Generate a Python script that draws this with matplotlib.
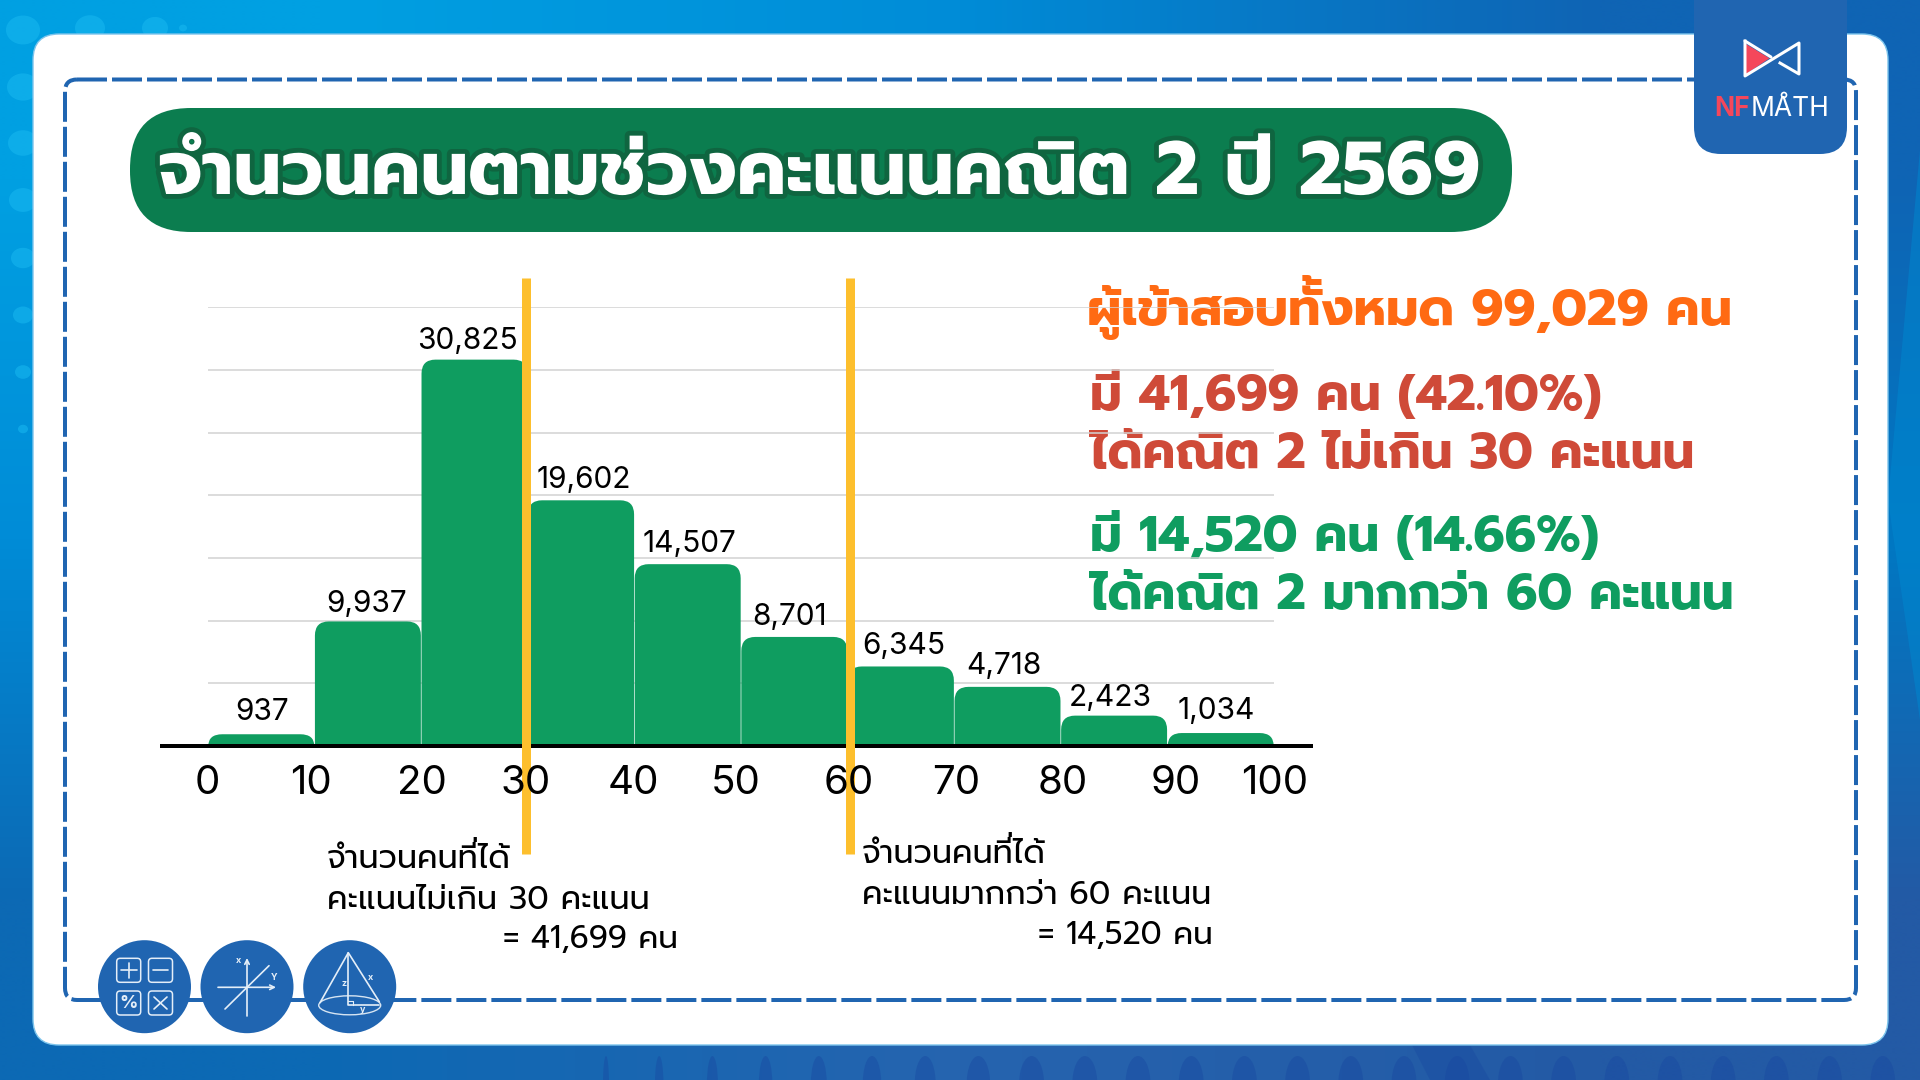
import re
import numpy as np
import matplotlib
matplotlib.use("Agg")
import matplotlib.pyplot as plt
import matplotlib.patheffects as pe
from matplotlib.patches import FancyBboxPatch, PathPatch, Ellipse, Circle, Polygon
from matplotlib.path import Path
from matplotlib.transforms import ScaledTranslation

# chart data
bin_left = [0, 10, 20, 30, 40, 50, 60, 70, 80, 90]
counts = [937, 9937, 30825, 19602, 14507, 8701, 6345, 4718, 2423, 1034]
tick_values = [0, 10, 20, 30, 40, 50, 60, 70, 80, 90, 100]
grid_values = [5000, 10000, 15000, 20000, 25000, 30000, 35000]
cut_scores = [29.83, 60.18]

title = "จำนวนคนตามช่วงคะแนนคณิต 2 ปี 2569"
total_line = "ผู้เข้าสอบทั้งหมด 99,029 คน"
low_lines = ["มี 41,699 คน (42.10%)", "ได้คณิต 2 ไม่เกิน 30 คะแนน"]
high_lines = ["มี 14,520 คน (14.66%)", "ได้คณิต 2 มากกว่า 60 คะแนน"]
low_note = ["จำนวนคนที่ได้", "คะแนนไม่เกิน 30 คะแนน", "= 41,699 คน"]
high_note = ["จำนวนคนที่ได้", "คะแนนมากกว่า 60 คะแนน", "= 14,520 คน"]

FONT = ["Prompt"]
NUM_FONT = ["Inter", "Noto Sans Thai"]
GREEN = "#0f9d60"
BLUE = "#2065b1"
PX = 0.72  # one pixel in points at dpi 100

fig = plt.figure(figsize=(19.2, 10.8), dpi=100)
renderer = fig.canvas.get_renderer()

# page in pixel coordinates
bg = fig.add_axes([0, 0, 1, 1], zorder=0)
bg.axis("off")

grad = np.array([[[0, 160, 226], [0, 140, 215], [15, 100, 180]],
                 [[0, 140, 215], [10, 110, 190], [0, 120, 195]],
                 [[12, 105, 180], [38, 100, 175], [35, 90, 165]]]) / 255
bg.imshow(grad, extent=[0, 1920, 1080, 0], aspect="auto", interpolation="bilinear", zorder=0)
bg.set_xlim(0, 1920)
bg.set_ylim(1080, 0)

# background dots
for y, r in zip([30, 87, 143, 200, 258, 315, 372, 429], [17, 16, 15, 14, 12, 10, 8, 5]):
    bg.add_patch(Ellipse((23, y), r * 2, r * 1.7, color="#19b8f0", alpha=0.55, lw=0, zorder=1))
for x, r in zip([90, 155, 183], [15, 13, 4]):
    bg.add_patch(Ellipse((x, 28), r * 2, r * 1.7, color="#19b8f0", alpha=0.55, lw=0, zorder=1))
for i, x in enumerate(np.arange(606, 1900, 53.2)):
    w = min(6 + i * 2.5, 25)
    bg.add_patch(Ellipse((x, 1084), w, 56, color="#1746a0", alpha=0.4, lw=0, zorder=1))
bg.add_patch(Polygon([[1888, 500], [1920, 150], [1920, 720]], color="#0088d0", alpha=0.5, lw=0, zorder=1))
bg.add_patch(Polygon([[1412, 1045], [1470, 1045], [1490, 1080], [1430, 1080]], color="#1746a0", alpha=0.35, lw=0, zorder=1))

# white card and dashed frame
bg.add_patch(FancyBboxPatch((33, 34), 1855, 1011, boxstyle="round,pad=0,rounding_size=26",
                            fc="white", ec="#7cc4ec", lw=1, zorder=2))
bg.add_patch(FancyBboxPatch((65, 79.5), 1791, 920.5, boxstyle="round,pad=0,rounding_size=12",
                            fc="none", ec=BLUE, lw=4 * PX, ls=(0, (7.5, 1.25)), capstyle="butt", zorder=3))

# title pill
bg.add_patch(FancyBboxPatch((130, 108), 1382, 124, boxstyle="round,pad=0,rounding_size=61",
                            fc="#0b7d4f", ec="none", zorder=4))
bg.text(158, 194, title, fontsize=54, family=FONT, weight="bold", color="white", zorder=5,
        path_effects=[pe.withStroke(linewidth=7, foreground="#0f6540")])


def thai_line(x, y, s, size, color, weight="normal", lift=0.2, nudge=0):
    # no text shaping here, so a tone mark on top of an upper vowel is lifted by hand
    m = re.search("[ัิีึื][่้๊๋]", s)
    kw = dict(fontsize=size, family=FONT, weight=weight, color=color, zorder=5)
    if m is None:
        bg.text(x, y, s, **kw)
        return
    tone = s[m.start() + 1]
    bg.text(x, y, s[:m.start() + 1] + s[m.start() + 2:], **kw)
    tmp = bg.text(x, y, s[:m.start()], **kw)
    w = tmp.get_window_extent(renderer).width
    tmp.set_text(" ")
    sp = tmp.get_window_extent(renderer).width
    tmp.remove()
    bg.text(x + w - sp + nudge, y - lift * size / PX, " " + tone, **kw)


# right hand summary
thai_line(1087, 325, total_line, 36.8, "#ff6a13", weight="bold")
thai_line(1090, 410, low_lines[0], 36, "#cf4a38", weight="bold")
thai_line(1090, 468, low_lines[1], 36, "#cf4a38", weight="bold")
thai_line(1090, 551, high_lines[0], 36, GREEN, weight="bold")
thai_line(1090, 609, high_lines[1], 36, GREEN, weight="bold")

# notes under the chart
note_size = 23
thai_line(327, 868, low_note[0], note_size, "black")
thai_line(327, 909, low_note[1], note_size, "black")
thai_line(503, 948, low_note[2], 22.5, "black")
thai_line(862, 863, high_note[0], note_size, "black")
thai_line(862, 904, high_note[1], note_size, "black")
thai_line(1038, 944, high_note[2], 22.5, "black")

# logo
bg.add_patch(FancyBboxPatch((1694, -60), 153, 214, boxstyle="round,pad=0,rounding_size=27",
                            fc=BLUE, ec="none", zorder=6))
bg.add_patch(Polygon([[1746, 44], [1769.5, 58.3], [1746, 74]], color="#f5475b", lw=0, zorder=7))
bg.plot([1745, 1745, 1799, 1799, 1780], [41, 76, 43, 74, 63], color="white", lw=3 * PX, solid_joinstyle="round", zorder=7)
bg.plot([1745, 1771], [41, 57], color="white", lw=3 * PX, solid_capstyle="round", zorder=7)
bg.text(1714, 116, "NF", fontsize=19, family="Inter", weight="bold", color="#f5475b", zorder=7)
bg.text(1751, 116, "MATH", fontsize=19, family="Inter", weight="normal", color="white", zorder=7)
bg.add_patch(Circle((1784, 95), 2.5, fc="none", ec="white", lw=1.2, zorder=7))

# three round icons on the frame
for cx in [144.5, 247, 349.7]:
    bg.add_patch(Circle((cx, 986.7), 46.5, fc=BLUE, ec="none", zorder=6))
for x0, y0 in [(116.7, 958.3), (148.5, 958.3), (116.7, 991), (148.5, 991)]:
    bg.add_patch(FancyBboxPatch((x0, y0), 24, 24, boxstyle="round,pad=0,rounding_size=3.5",
                                fc="none", ec="#e4eef8", lw=1.1, zorder=7))
line = dict(color="#e4eef8", lw=1.2, zorder=7, solid_capstyle="round")
bg.plot([121, 136.5], [970.3, 970.3], **line)
bg.plot([128.7, 128.7], [963, 978], **line)
bg.plot([153, 168], [970.3, 970.3], **line)
bg.plot([154, 167], [997, 1009], **line)
bg.plot([167, 154], [997, 1009], **line)
bg.text(128.7, 1003, "%", fontsize=13, family="Inter", weight="bold", color="#e4eef8",
        ha="center", va="center", zorder=7)
# axes icon
bg.annotate("", xy=(276, 987.3), xytext=(218, 987.3), zorder=7,
            arrowprops=dict(arrowstyle="->", color="#e4eef8", lw=1.2, mutation_scale=8, shrinkA=0, shrinkB=0))
bg.annotate("", xy=(247, 958), xytext=(247, 1016), zorder=7,
            arrowprops=dict(arrowstyle="->", color="#e4eef8", lw=1.2, mutation_scale=8, shrinkA=0, shrinkB=0))
bg.plot([225, 269], [1009, 965.7], **line)
small = dict(fontsize=6.5, family="Inter", weight="bold", color="#e4eef8", ha="center", va="center", zorder=7)
bg.text(238.3, 960.7, "x", **small)
bg.text(273.7, 977.3, "Y", **small)
# cone icon
bg.add_patch(Ellipse((349.7, 1005.3), 62, 19, fc="none", ec="#d6e4f2", lw=1, zorder=7))
bg.plot([320, 348.3, 379.3], [1002.7, 952.7, 1001.7], **line)
bg.plot([348.3, 348.3, 379], [952.7, 1005.3, 1005.3], **line)
bg.plot([348.3, 352.5, 352.5], [1001, 1001, 1005.3], color="#e4eef8", lw=0.8, zorder=7)
bg.text(343.7, 984, "z", **small)
bg.text(370.7, 977.3, "x", **small)
bg.text(362.7, 1009.3, "y", **small)

# histogram
ax = fig.add_axes([208 / 1920, 1 - 746 / 1080, (1274 - 208) / 1920, (746 - 307.3) / 1080], zorder=1)
ax.patch.set_alpha(0)
ax.set_xlim(0, 100)
ax.set_ylim(0, 35000)
ax.set_axisbelow(False)
for sp in ax.spines.values():
    sp.set_visible(False)
ax.set_yticks([])


def round_top(x, w, h, rx=1.31, ry=1120):
    ry = min(ry, h)
    verts = [(x, 0), (x, h - ry), (x, h), (x + rx, h), (x + w - rx, h), (x + w, h), (x + w, h - ry), (x + w, 0), (x, 0)]
    codes = [Path.MOVETO, Path.LINETO, Path.CURVE3, Path.CURVE3, Path.LINETO, Path.CURVE3, Path.CURVE3, Path.LINETO, Path.CLOSEPOLY]
    return Path(verts, codes)


ax.hlines(grid_values, 0, 100, color="#d2d2d2", lw=1.1, zorder=0.5)
for left, n in zip(bin_left, counts):
    ax.add_patch(PathPatch(round_top(left + 0.03, 9.94, n), fc=GREEN, ec="none", zorder=1))

ax.plot([-4.5, 103.7], [0, 0], color="black", lw=4 * PX, solid_capstyle="butt", clip_on=False, zorder=1.5)
for x in cut_scores:
    ax.plot([x, x], [1.0676, -0.247], transform=ax.get_xaxis_transform(), color="#fdbf2d", lw=9 * PX,
            solid_capstyle="butt", clip_on=False, zorder=2)

label_dx = [1, -1.5, -7.5, 3, 1.4, -5, 3, -3.5, -3.5, -4]
label_gap = [14.7, 9, 10.7, 12, 12, 12, 12.4, 13.3, 9.3, 14]
for left, n, dx, gap in zip(bin_left, counts, label_dx, label_gap):
    ax.annotate(f"{n:,}", (left + 5, n), xytext=(dx * PX, gap * PX), textcoords="offset points",
                ha="center", va="baseline", fontsize=21.5, family=NUM_FONT, color="black", zorder=3,
                annotation_clip=False)

ax.set_xticks(tick_values)
ax.set_xticklabels([str(v) for v in tick_values], fontsize=29, family=NUM_FONT, color="black")
ax.tick_params(axis="x", length=0, pad=14)
tick_dx = [-1, -3.5, 0.5, -2, -1, -5, 1.6, 2, 2, 8.5, 1]
for lab, dx in zip(ax.get_xticklabels(), tick_dx):
    lab.set_transform(lab.get_transform() + ScaledTranslation(dx * PX / 72, 0, fig.dpi_scale_trans))

fig.savefig("out.png", dpi=100)
